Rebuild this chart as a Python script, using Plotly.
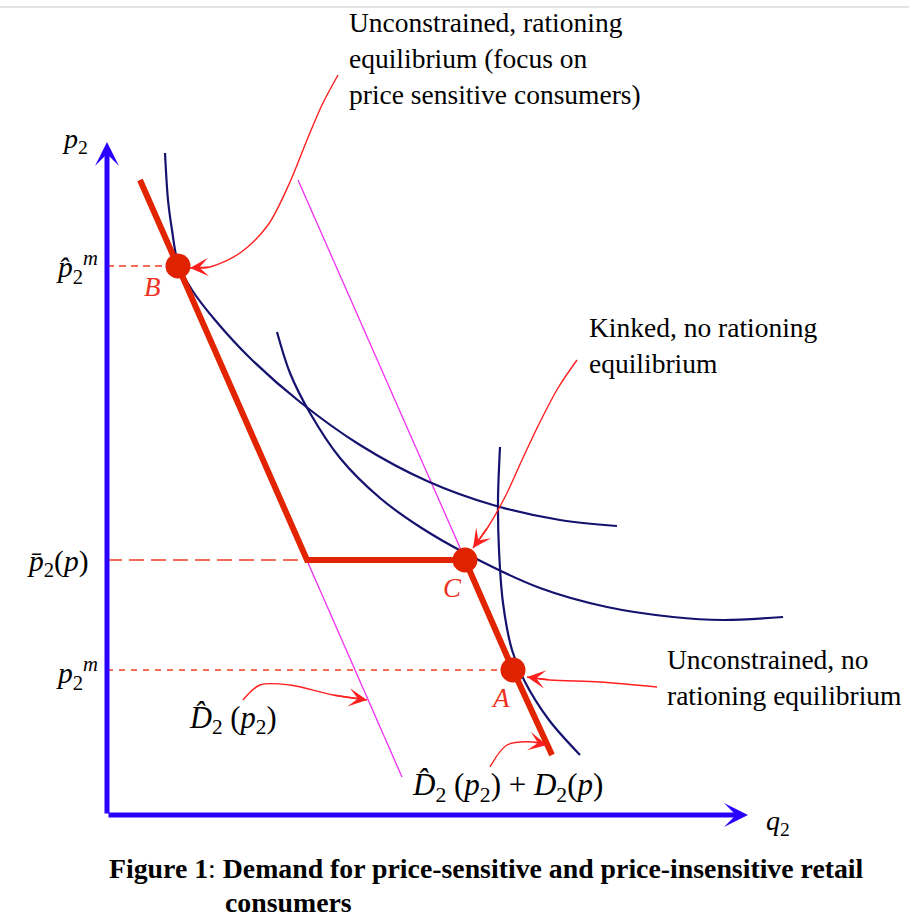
import plotly.graph_objects as go

# ---- coordinate system: q (quantity) to the right, p (price) upward, origin at the axes corner ----
Q_RANGE = [-107, 802]
P_RANGE = [-102, 815]

# price levels
p_hat_m = 549
p_bar = 255
p_m = 145

# demand lines
d_hat_q = [33, 295]          # D^_2(p2)
d_hat_p = [635, 38]
d_tot_q = [191, 443]         # D^_2(p2) + D_2(p)
d_tot_p = [635, 63]

# kinked demand (red)
kink_q = [33, 71, 200, 358, 406, 445]
kink_p = [635, 549, 255, 255, 145, 60]

# equilibrium points
pt_names = ["B", "C", "A"]
pt_q = [71, 358, 406]
pt_p = [549, 255, 145]
lbl_q = [45, 345, 393]
lbl_p = [528, 227, 117]

# iso-profit curves
c1_q = [58, 61, 65, 71, 85, 108, 143, 193, 253, 320, 386, 453, 510]
c1_p = [662, 615, 585, 552, 525, 495, 457, 413, 370, 334, 310, 295, 289]
c2_q = [170, 183, 203, 233, 273, 313, 358, 433, 500, 566, 616, 676]
c2_p = [483, 442, 402, 357, 317, 288, 262, 227, 208, 198, 195, 198]
c3_q = [393, 391, 392, 396, 405, 417, 442, 473]
c3_p = [368, 315, 265, 212, 165, 135, 95, 60]

# annotation pointer curves (last point = arrow tip)
arr1_q = [231, 215, 200, 183, 161, 133, 103, 83]
arr1_p = [740, 710, 675, 633, 590, 562, 548, 547]
arr2_q = [470, 451, 433, 415, 398, 381, 366]
arr2_p = [455, 427, 393, 355, 318, 288, 267]
arr3_q = [550, 493, 443, 420]
arr3_p = [128, 133, 135, 138]
arr4_q = [136, 153, 183, 226, 260]
arr4_p = [115, 130, 130, 120, 115]
arr5_q = [383, 400, 426, 440]
arr5_p = [48, 70, 73, 70]

# axis extents
q_axis_end = 641
p_axis_end = 673

SERIF = "Liberation Serif"
RED = "#e32400"
DASHRED = "#f03c20"
ARROWRED = "#ff1f1f"
NAVY = "#14126e"
MAGENTA = "#f030f0"
BLUE = "#2a00ff"

fig = go.Figure()

def line(q, p, color, width, dash="solid", shape="linear", smoothing=1.0):
    fig.add_trace(go.Scatter(x=q, y=p, mode="lines", hoverinfo="skip",
                             line=dict(color=color, width=width, dash=dash, shape=shape,
                                       smoothing=smoothing)))

# magenta demand lines
line(d_hat_q, d_hat_p, MAGENTA, 1.3)
line(d_tot_q, d_tot_p, MAGENTA, 1.3)

# iso-profit curves
for cq, cp in [(c1_q, c1_p), (c2_q, c2_p), (c3_q, c3_p)]:
    line(cq, cp, NAVY, 2.2, shape="spline", smoothing=0.9)

# dashed guide lines
line([0, pt_q[0]], [p_hat_m, p_hat_m], DASHRED, 1.5, dash="7px,5px")
line([0, kink_q[2]], [p_bar, p_bar], DASHRED, 1.5, dash="15px,7px")
line([0, pt_q[2]], [p_m, p_m], DASHRED, 1.5, dash="6px,6px")

# kinked demand
line(kink_q, kink_p, RED, 6)

# equilibrium dots
fig.add_trace(go.Scatter(x=pt_q, y=pt_p, mode="markers", hoverinfo="skip",
                         marker=dict(size=25, color="#e02200", line=dict(width=0))))

# pointer curves
arrows = [(arr1_q, arr1_p), (arr2_q, arr2_p), (arr3_q, arr3_p), (arr4_q, arr4_p), (arr5_q, arr5_p)]
for aq, ap in arrows:
    line(aq, ap, ARROWRED, 1.4, shape="spline", smoothing=0.9)

annotations = []
for aq, ap in arrows:
    annotations.append(dict(x=aq[-1], y=ap[-1], ax=aq[-2], ay=ap[-2], xref="x", yref="y",
                            axref="x", ayref="y", text="", showarrow=True, arrowhead=3,
                            arrowsize=2.2, arrowwidth=1.4, arrowcolor=ARROWRED, standoff=0))

# axes with arrow heads
annotations.append(dict(x=0, y=p_axis_end, ax=0, ay=0, xref="x", yref="y", axref="x", ayref="y",
                        text="", showarrow=True, arrowhead=3, arrowsize=0.8, arrowwidth=5,
                        arrowcolor=BLUE, standoff=0))
annotations.append(dict(x=q_axis_end, y=0, ax=0, ay=0, xref="x", yref="y", axref="x", ayref="y",
                        text="", showarrow=True, arrowhead=3, arrowsize=0.8, arrowwidth=5,
                        arrowcolor=BLUE, standoff=0))

def txt(x, y, text, size, color="black", xanchor="center", yanchor="middle", align="left"):
    annotations.append(dict(x=x, y=y, xref="x", yref="y", text=text, showarrow=False,
                            xanchor=xanchor, yanchor=yanchor, align=align,
                            font=dict(family=SERIF, size=size, color=color)))

# axis labels
txt(-32, 675, "<i>p</i><sub>2</sub>", 28)
txt(671, -7, "<i>q</i><sub>2</sub>", 28)

# price tick labels
txt(-7, 548, "<i>p\u0302</i><sub>2</sub><sup><i>m</i></sup>", 29.5, xanchor="right")
txt(-17, 252, "<i>p\u0304</i><sub>2</sub>(<i>p</i>)", 29.5, xanchor="right")
txt(-7, 142, "<i>p</i><sub>2</sub><sup><i>m</i></sup>", 29.5, xanchor="right")

# point labels
for n, x, y in zip(pt_names, lbl_q, lbl_p):
    txt(x, y, "<i>" + n + "</i>", 27, color="#ee3020")

# demand labels
txt(80, 95, "<i>D\u0302</i><sub>2</sub> (<i>p</i><sub>2</sub>)", 30.5, xanchor="left")
txt(303, 28, "<i>D\u0302</i><sub>2</sub> (<i>p</i><sub>2</sub>) + <i>D</i><sub>2</sub>(<i>p</i>)", 31, xanchor="left")

# explanatory notes
txt(240, 757, "Unconstrained, rationing<br>equilibrium (focus on<br>price sensitive consumers)", 27.5, xanchor="left")
txt(480, 470, "Kinked, no rationing<br>equilibrium", 27.5, xanchor="left")
txt(558, 138, "Unconstrained, no<br>rationing equilibrium", 27.5, xanchor="left")

# caption
txt(0, -53, "<b>Figure 1</b>: <b>Demand for price-sensitive and price-insensitive retail</b>", 27.8, xanchor="left")
txt(116, -87, "<b>consumers</b>", 27.8, xanchor="left")

shapes = [
    dict(type="line", xref="paper", yref="y", x0=0, x1=1, y0=808, y1=808,
         line=dict(color="#c8c8c8", width=1)),
    dict(type="rect", xref="x", yref="y", x0=295, x1=506, y0=-4, y1=4,
         fillcolor="rgba(255,255,255,0.55)", line=dict(width=0), layer="above"),
]

fig.update_layout(
    width=909, height=917, autosize=False,
    margin=dict(l=0, r=0, t=0, b=0),
    paper_bgcolor="white", plot_bgcolor="white",
    showlegend=False,
    xaxis=dict(range=Q_RANGE, visible=False, fixedrange=True),
    yaxis=dict(range=P_RANGE, visible=False, fixedrange=True),
    annotations=annotations,
    shapes=shapes,
)

fig.write_html("out.html", config={"displayModeBar": False},
               post_script="document.body.style.margin='0';document.body.style.overflow='hidden';")
